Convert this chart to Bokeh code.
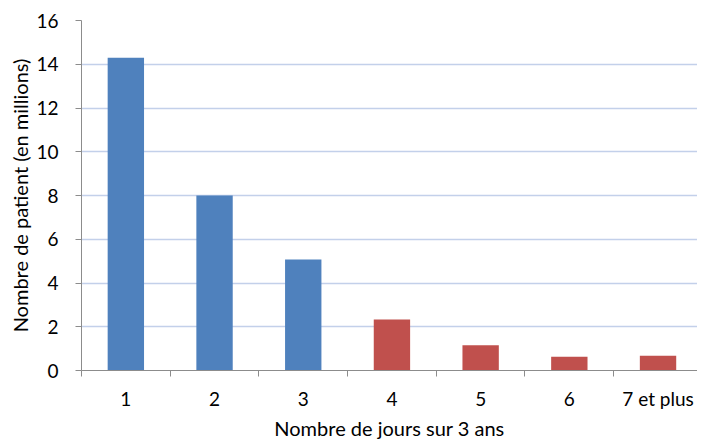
from bokeh.plotting import figure
from bokeh.models import FixedTicker, Range1d
from bokeh.embed import file_html
from bokeh.resources import INLINE

# Data
categories = ["1", "2", "3", "4", "5", "6", "7 et plus"]
positions = [1, 2, 3, 4, 5, 6, 7]
values = [14.3, 8.0, 5.07, 2.33, 1.16, 0.63, 0.67]
y_ticks = [0, 2, 4, 6, 8, 10, 12, 14, 16]

BLUE = "#4F81BD"
RED = "#C0504D"
colors = [BLUE if x <= 3 else RED for x in positions]

p = figure(frame_width=616, frame_height=350, output_backend="svg", toolbar_location=None,
           min_border_left=81, min_border_right=0, min_border_top=20, min_border_bottom=0,
           x_range=Range1d(0.5, 7.445), y_range=Range1d(0, 16))
p.outline_line_color = None
p.background_fill_color = "white"
p.border_fill_color = "white"

p.vbar(x=positions, top=values, bottom=0, width=0.41, fill_color=colors, line_color=None)

FONT = "Lato"
AX = "#8C8C8C"

boundaries = [c - 0.5 for c in positions] + [positions[-1] + 0.5]
p.xaxis.ticker = FixedTicker(ticks=positions, minor_ticks=boundaries)
p.xaxis.major_label_overrides = {pos: lab for pos, lab in zip(positions, categories)}
p.xaxis.major_tick_line_color = None
p.xaxis.major_tick_out = 6
p.xaxis.major_tick_in = 0
p.xaxis.minor_tick_line_color = AX
p.xaxis.minor_tick_out = 6
p.xaxis.minor_tick_in = 0
p.xaxis.axis_line_color = AX
p.xaxis.axis_label = "Nombre de jours sur 3 ans"
p.xaxis.major_label_standoff = 10
p.xaxis.axis_label_standoff = 3

p.yaxis.ticker = FixedTicker(ticks=y_ticks)
p.yaxis.minor_tick_line_color = None
p.yaxis.major_tick_line_color = AX
p.yaxis.major_tick_out = 6
p.yaxis.major_tick_in = 0
p.yaxis.axis_line_color = AX
p.yaxis.axis_label = "Nombre de patient (en millions)"
p.yaxis.major_label_standoff = 17
p.yaxis.axis_label_standoff = 1

for ax in (p.xaxis, p.yaxis):
    ax.major_label_text_font = FONT
    ax.major_label_text_font_size = "19px"
    ax.major_label_text_color = "black"
    ax.axis_label_text_font = FONT
    ax.axis_label_text_font_size = "20px"
    ax.axis_label_text_font_style = "normal"
    ax.axis_label_text_color = "black"

p.xgrid.grid_line_color = None
p.ygrid.grid_line_color = "#C3D0EA"
p.ygrid.grid_line_width = 1.5

open("out.html", "w").write(file_html(p, INLINE))
